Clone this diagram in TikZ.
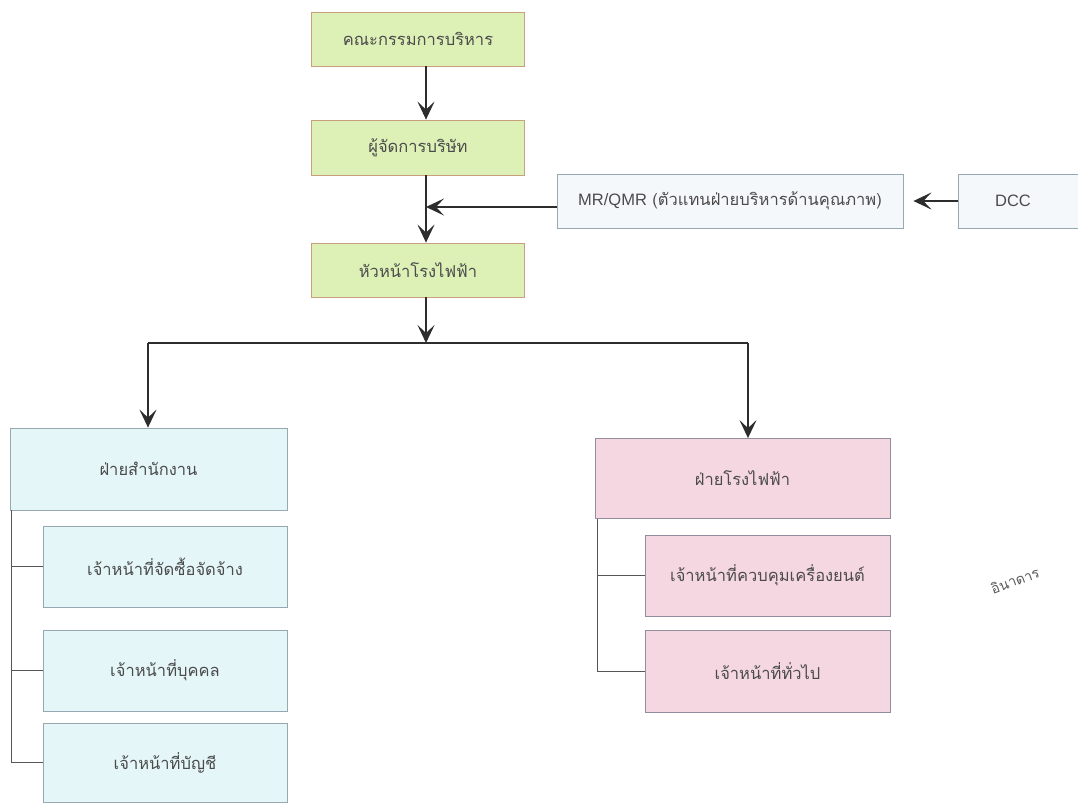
\documentclass[tikz,border=0pt]{standalone}
\usepackage{fontspec}
\setmainfont{Loma}[Script=Thai]
\newfontfamily\latinf{Liberation Sans}
\usetikzlibrary{arrows.meta}
\definecolor{gfill}{RGB}{221,240,182}
\definecolor{gdraw}{RGB}{200,160,125}
\definecolor{cfill}{RGB}{228,246,248}
\definecolor{cdraw}{RGB}{150,168,178}
\definecolor{pfill}{RGB}{245,215,225}
\definecolor{pdraw}{RGB}{150,140,160}
\definecolor{wfill}{RGB}{245,248,250}
\definecolor{txt}{RGB}{75,75,75}
\definecolor{arr}{RGB}{45,45,45}
\tikzset{
  box/.style={rectangle, inner sep=0pt, text=txt, font=\fontsize{16.5}{19}\selectfont, line width=0.8pt},
  gbox/.style={box, fill=gfill, draw=gdraw},
  cbox/.style={box, fill=cfill, draw=cdraw},
  pbox/.style={box, fill=pfill, draw=pdraw},
  wbox/.style={box, fill=wfill, draw=cdraw},
  flow/.style={draw=arr, line width=2.4pt, -{Stealth[length=18pt,width=17pt,inset=8pt]}},
  plain/.style={draw=arr, line width=2.4pt},
  tie/.style={draw=arr!80, line width=1pt},
}
\begin{document}
\begin{tikzpicture}[x=1pt,y=-1pt]
\useasboundingbox (0,0) rectangle (1078,804);
% top chain
\node[gbox, minimum width=213pt, minimum height=54pt] (b1) at (418,39) {คณะกรรมการบริหาร};
\node[gbox, minimum width=213pt, minimum height=55pt] (b2) at (418,147.5) {ผู้จัดการบริษัท};
\node[gbox, minimum width=213pt, minimum height=54pt] (b3) at (418,270) {หัวหน้าโรงไฟฟ้า};
\node[wbox, minimum width=346pt, minimum height=54pt] (mr) at (730,201) {{\latinf MR/QMR} (ตัวแทนฝ่ายบริหารด้านคุณภาพ)};
\node[wbox, minimum width=132pt, minimum height=54pt] (dcc) at (1024,201) {\makebox[0pt][c]{\hspace*{-22pt}\latinf DCC}};
% left group
\node[cbox, minimum width=277pt, minimum height=82pt] (lh) at (148.5,469) {ฝ่ายสำนักงาน};
\node[cbox, minimum width=244pt, minimum height=81pt] (l1) at (165,566.5) {เจ้าหน้าที่จัดซื้อจัดจ้าง};
\node[cbox, minimum width=244pt, minimum height=81pt] (l2) at (165,670.5) {เจ้าหน้าที่บุคคล};
\node[cbox, minimum width=244pt, minimum height=79pt] (l3) at (165,762.5) {เจ้าหน้าที่บัญชี};
% right group
\node[pbox, minimum width=295pt, minimum height=80pt] (rh) at (742.5,478.5) {ฝ่ายโรงไฟฟ้า};
\node[pbox, minimum width=245pt, minimum height=81pt] (r1) at (767.5,575.5) {เจ้าหน้าที่ควบคุมเครื่องยนต์};
\node[pbox, minimum width=245pt, minimum height=82pt] (r2) at (767.5,671) {เจ้าหน้าที่ทั่วไป};
% connectors
\coordinate (t) at (426,0);
\coordinate (jt) at (426,343);
\coordinate (jl) at (148,343);
\coordinate (jr) at (748,343);
\coordinate (ml) at (426,207);
\draw[flow] (b1.south -| t) -- (b2.north -| t);
\draw[flow] (b2.south -| t) -- (b3.north -| t);
\draw[flow] (mr.west |- ml) -- (ml);
\draw[flow, shorten >=10pt] (dcc.west) -- (mr.east);
\draw[flow] (b3.south -| t) -- (jt);
\draw[plain] (jl) -- (jr);
\draw[flow] (jl) -- (jl |- lh.north);
\draw[flow] (jr) -- (jr |- rh.north);
% brackets
\coordinate (lx) at (11,0);
\draw[tie] (lh.south -| lx) -- (lx |- l3.center) -- (l3.west);
\draw[tie] (lx |- l1.center) -- (l1.west);
\draw[tie] (lx |- l2.center) -- (l2.west);
\coordinate (rx) at (597,0);
\draw[tie] (rh.south -| rx) -- (rx |- r2.west) -- (r2.west);
\draw[tie] (rx |- r1.west) -- (r1.west);
% handwritten fragment
\node[rotate=20, text=black!65, font=\fontsize{14}{16}\selectfont, anchor=west] (sig) at (988,590) {อินาดาร};
\end{tikzpicture}
\end{document}
